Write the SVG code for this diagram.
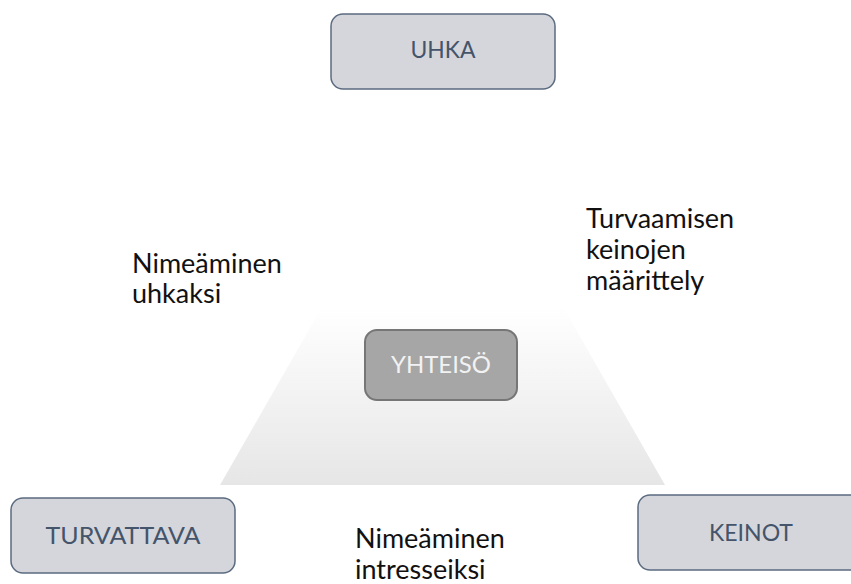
<svg xmlns="http://www.w3.org/2000/svg" width="851" height="584" viewBox="0 0 851 584">
<defs>
<linearGradient id="trap" x1="0" y1="0" x2="0" y2="1">
<stop offset="0" stop-color="#ffffff"/>
<stop offset="1" stop-color="#e6e6e6"/>
</linearGradient>
<style>
.box{fill:#d5d6db;stroke:#5b6b80;stroke-width:1.5}
.blabel{font-family:Lato,"Liberation Sans",sans-serif;font-size:23.5px;fill:#44546a;text-anchor:middle}
.lbl{font-family:Lato,"Liberation Sans",sans-serif;font-size:27px;fill:#111111}
</style>
</defs>
<rect width="851" height="584" fill="#ffffff"/>
<polygon id="yhteiso-base" points="322,307 563,307 665,485 220,485" fill="url(#trap)"/>
<g id="connectors"></g>
<g id="uhka">
<rect class="box" x="331" y="14" width="224" height="75" rx="12"/>
<text class="blabel" x="443" y="58" textLength="65" lengthAdjust="spacingAndGlyphs">UHKA</text>
</g>
<g id="turvattava">
<rect class="box" x="11" y="498" width="224" height="75" rx="12"/>
<text class="blabel" x="123" y="544" textLength="155" lengthAdjust="spacingAndGlyphs">TURVATTAVA</text>
</g>
<g id="keinot">
<rect class="box" x="638" y="495" width="224" height="75" rx="12"/>
<text class="blabel" x="751" y="541" textLength="84" lengthAdjust="spacingAndGlyphs">KEINOT</text>
</g>
<g id="yhteiso">
<rect x="365" y="330" width="152" height="70" rx="12" fill="#a6a6a6" stroke="#767676" stroke-width="2"/>
<text x="441" y="373" font-family="Lato,'Liberation Sans',sans-serif" font-size="24" fill="#f2f2f2" text-anchor="middle" textLength="100" lengthAdjust="spacingAndGlyphs">YHTEISÖ</text>
</g>
<g id="label-uhkaksi">
<text class="lbl" x="132" y="273">Nimeäminen</text>
<text class="lbl" x="132" y="303">uhkaksi</text>
</g>
<g id="label-keinojen">
<text class="lbl" x="586" y="228">Turvaamisen</text>
<text class="lbl" x="586" y="259">keinojen</text>
<text class="lbl" x="586" y="290">määrittely</text>
</g>
<g id="label-intresseiksi">
<text class="lbl" x="355" y="548">Nimeäminen</text>
<text class="lbl" x="355" y="579">intresseiksi</text>
</g>
</svg>
